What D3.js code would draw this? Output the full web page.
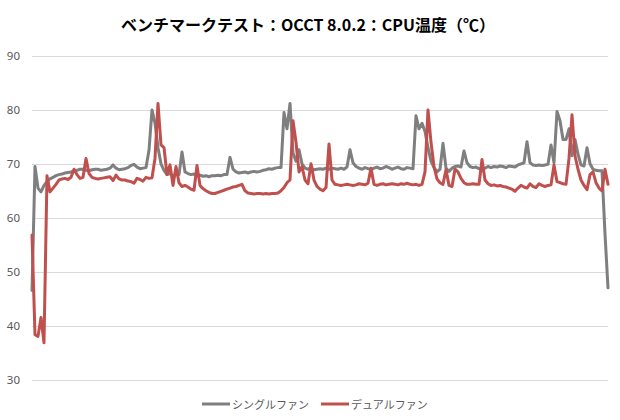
<!DOCTYPE html>
<html><head><meta charset="utf-8">
<script src="https://cdn.jsdelivr.net/npm/d3@7/dist/d3.min.js"></script>
<style>
html,body{margin:0;padding:0;background:#fff;}
svg{display:block;}
</style></head>
<body>
<svg id="chart" width="620" height="420"></svg>
<script>
const title = "ベンチマークテスト：OCCT 8.0.2：CPU温度（℃）";
const seriesNames = ["シングルファン", "デュアルファン"];
const yTicks = [30, 40, 50, 60, 70, 80, 90];

const singleFan = [
  46.5, 69.5, 65.5, 64.8, 66, 66.7, 67.2, 67.5, 67.8, 68,
  68.1, 68.3, 68.4, 68.5, 68.7, 68.8, 69, 69, 68.8, 68.7,
  68.9, 69, 69, 68.8, 68.9, 69, 69.2, 69.8, 69.2, 68.9,
  69, 69.1, 69.3, 69.7, 69.9, 69.4, 69.1, 69.2, 69.3, 72.5,
  80, 77.5, 73, 70, 68.8, 68, 68.2, 67.8, 68, 68,
  72.2, 68.5, 68.2, 68, 68.1, 67.9, 67.9, 67.7, 67.8, 67.6,
  67.8, 67.8, 67.9, 67.8, 68, 68, 71.2, 69, 68.5, 68.3,
  68.4, 68.5, 68.3, 68.5, 68.6, 68.5, 68.6, 68.8, 68.9, 69.1,
  69, 69.2, 69.3, 69.3, 79.5, 76.5, 81.2, 72, 70.5, 72.6,
  70, 69.2, 69, 69.3, 68.9, 69, 69.1, 69, 69.2, 69,
  69.2, 69.1, 69, 69.2, 69, 69.4, 72.6, 70.2, 69.5, 69.2,
  69, 69.3, 69.1, 68.9, 69.2, 69.4, 69.1, 69.2, 69.5, 69.3,
  69, 69.2, 69.4, 69.1, 69, 69.3, 69.2, 69.1, 78.9, 76.5,
  77.5, 76, 73, 70.5, 69.3, 68.5, 69, 73.8, 69.2, 68.6,
  69.2, 69.5, 69.6, 69.4, 72.4, 70.2, 69.5, 69.3, 69.4, 69.1,
  68.8, 69.2, 69.5, 69.3, 69.5, 69.4, 69.6, 69.5, 69.3, 69.6,
  69.5, 69.4, 69.8, 70, 70.2, 74.1, 70.2, 69.8, 69.7, 69.8,
  69.7, 69.8, 69.9, 73.5, 70.2, 79.7, 78, 74.5, 74.5, 76.5,
  71.5, 74.5, 71.8, 69.8, 69.6, 73, 70, 69, 68.8, 68.7,
  68.7, 57, 47
];

const dualFan = [
  56.8, 38.3, 38, 41.5, 36.8, 67.8, 64.8, 65.5, 66.2, 67,
  67.2, 67.3, 67.1, 67.5, 69, 68, 67.3, 67.5, 71, 68.2,
  67.5, 67.3, 67.2, 67.3, 67.4, 67.5, 67.6, 66.9, 67.9, 67.2,
  67, 67, 66.8, 66.7, 66.4, 67.3, 67.1, 66.8, 67.5, 67.3,
  67.4, 71, 81.2, 73.5, 73, 68, 69.8, 66, 69.5, 66.5,
  65.8, 66, 65.7, 65.3, 65.1, 69.7, 66, 65.4, 65, 64.7,
  64.5, 64.5, 64.7, 64.9, 65.1, 65.3, 65.5, 65.7, 65.8, 66,
  66.2, 65, 64.6, 64.5, 64.4, 64.5, 64.5, 64.4, 64.5, 64.4,
  64.5, 64.5, 64.6, 65, 65.6, 66.5, 67, 78, 74, 68.5,
  69.5, 67, 66.3, 70, 67, 65.8, 65.3, 65, 65.6, 73.7,
  67, 66.2, 66.1, 66, 66.1, 66.2, 66.1, 66, 66.1, 66.3,
  66.2, 66.1, 66.4, 69.2, 66.2, 66, 66.2, 66.3, 66.1, 66.2,
  66.3, 66.2, 66.1, 66.3, 66.2, 66.4, 66.2, 66.1, 66.2, 66,
  66.2, 68.5, 80, 74, 69.5, 67.2, 66.5, 66.2, 68.9, 66,
  65.8, 69, 68.5, 67.3, 66.5, 66.2, 66.2, 66.3, 66.2, 66.2,
  70.8, 67, 66.3, 66, 66.1, 65.9, 66, 65.8, 65.7, 65.5,
  65.3, 64.9, 65.5, 66, 65.7, 65.5, 66.3, 65.8, 65.6, 66.3,
  66, 65.8, 66, 66.1, 69.8, 66.7, 66.5, 66.3, 66.2, 71,
  79.1, 71.5, 69, 67, 66, 65.2, 68, 68.5, 66.5, 65.5,
  65, 69, 66.2
];

const colors = ["#7f7f7f", "#c0504d"];

const svg = d3.select("#chart");
const plotLeft = 32, plotRight = 608, plotTop = 56, plotBottom = 379.5;

const n = Math.max(singleFan.length, dualFan.length);
const x = d3.scaleLinear().domain([0, n - 1]).range([plotLeft, plotRight]);
const y = d3.scaleLinear().domain([30, 90]).range([plotBottom, plotTop]);

const yAxis = d3.axisLeft(y).tickValues(yTicks).tickSize(-(plotRight - plotLeft)).tickPadding(12).tickFormat(d3.format("d"));
const gAxis = svg.append("g").attr("transform", `translate(${plotLeft},0)`).call(yAxis);
gAxis.select(".domain").remove();
gAxis.selectAll(".tick line").attr("stroke", "#d9d9d9").attr("stroke-width", 1).attr("shape-rendering", "crispEdges");
gAxis.selectAll(".tick text").attr("fill", "#595959").attr("font-size", "11.5px").attr("font-family", "'Noto Sans', 'Liberation Sans', sans-serif");

svg.append("text").attr("x", 308).attr("y", 24).attr("text-anchor", "middle").attr("dominant-baseline", "central")
  .attr("font-family", "'Noto Sans CJK JP', sans-serif").attr("font-weight", "bold").attr("font-size", "16px").attr("fill", "#000")
  .text(title);

const line = d3.line().x((d, i) => x(i)).y(d => y(d));
[singleFan, dualFan].forEach((s, k) => {
  svg.append("path").datum(s).attr("d", line).attr("fill", "none")
    .attr("stroke", colors[k]).attr("stroke-width", 3).attr("stroke-linejoin", "round").attr("stroke-linecap", "round");
});

const legendItems = [{x0: 202, name: seriesNames[0], c: colors[0]}, {x0: 321, name: seriesNames[1], c: colors[1]}];
legendItems.forEach(it => {
  svg.append("line").attr("x1", it.x0).attr("x2", it.x0 + 28).attr("y1", 404).attr("y2", 404)
    .attr("stroke", it.c).attr("stroke-width", 3);
  svg.append("text").attr("x", it.x0 + 30).attr("y", 404).attr("dominant-baseline", "central")
    .attr("font-family", "'Noto Sans CJK JP', sans-serif").attr("font-size", "11px").attr("fill", "#595959")
    .text(it.name);
});
</script>
</body></html>
